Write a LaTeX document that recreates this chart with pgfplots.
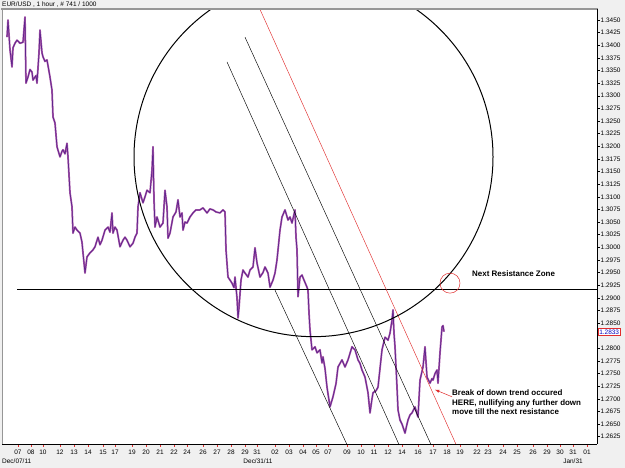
\documentclass[border=0pt]{standalone}
\usepackage{fontspec}
\setmainfont{Liberation Sans}
\usepackage{pgfplots}
\usepackage{pgfplotstable}
\pgfplotsset{compat=1.18}
\definecolor{bgc}{RGB}{240,240,240}
\definecolor{barc}{RGB}{95,35,140}
\definecolor{barlight}{RGB}{170,90,170}
\definecolor{trendred}{RGB}{225,45,45}
\definecolor{framegray}{RGB}{150,150,150}
\pgfplotstableread{
x y
7 1.3416
8 1.3450
10 1.3391
12 1.3357
13 1.3395
15 1.3404
17 1.3410
20 1.3404
23 1.3406
25 1.3456
26 1.3325
28 1.3337
30 1.3352
32 1.3347
33 1.3331
36 1.3340
37 1.3325
39 1.3385
40 1.3430
42 1.3385
43 1.3377
45 1.3368
47 1.3371
50 1.3337
52 1.3311
53 1.3258
55 1.3246
57 1.3199
60 1.3179
62 1.3190
63 1.3193
65 1.3185
67 1.3206
68 1.3179
70 1.3108
72 1.3080
73 1.3028
75 1.3040
77 1.3034
80 1.3028
82 1.3010
83 1.2989
85 1.2949
87 1.2981
90 1.2989
93 1.2995
95 1.3001
98 1.3020
100 1.3005
102 1.3014
105 1.3034
108 1.3040
110 1.3030
112 1.3068
113 1.3028
115 1.3040
117 1.3034
120 1.3001
123 1.3014
125 1.3020
127 1.3014
130 1.3001
133 1.3008
135 1.3020
137 1.3028
138 1.3080
140 1.3108
143 1.3088
145 1.3100
147 1.3113
150 1.3108
152 1.3153
153 1.3199
154 1.3094
155 1.3040
157 1.3060
160 1.3040
163 1.3048
165 1.3113
167 1.3080
168 1.3018
170 1.3028
173 1.3060
176 1.3070
178 1.3094
180 1.3060
182 1.3068
183 1.3034
185 1.3050
187 1.3048
190 1.3060
193 1.3068
196 1.3074
200 1.3074
203 1.3078
207 1.3068
210 1.3076
213 1.3074
216 1.3070
220 1.3068
223 1.3074
225 1.3070
226 1.2995
228 1.2941
230 1.2935
232 1.2929
234 1.2920
235 1.2941
237 1.2900
238 1.2860
239 1.2880
241 1.2935
243 1.2955
245 1.2949
248 1.2941
250 1.2955
253 1.2961
255 1.2999
257 1.2969
260 1.2941
263 1.2950
265 1.2961
268 1.2949
270 1.2921
273 1.2935
275 1.2949
277 1.2975
280 1.3034
282 1.3060
285 1.3074
288 1.3054
290 1.3060
292 1.3048
295 1.3074
296 1.3020
297 1.2995
298 1.2902
300 1.2941
302 1.2945
304 1.2935
307 1.2921
308 1.2915
309 1.2870
310 1.2836
312 1.2797
315 1.2803
317 1.2791
320 1.2797
322 1.2771
323 1.2783
325 1.2760
327 1.2723
330 1.2684
333 1.2704
336 1.2730
338 1.2763
340 1.2770
342 1.2777
345 1.2763
348 1.2777
350 1.2790
352 1.2803
355 1.2797
358 1.2777
360 1.2770
362 1.2757
365 1.2743
368 1.2712
370 1.2672
372 1.2700
373 1.2712
376 1.2716
378 1.2723
380 1.2760
382 1.2797
385 1.2822
388 1.2816
390 1.2830
392 1.2856
393 1.2876
394 1.2830
395 1.2803
397 1.2723
398 1.2678
400 1.2658
402 1.2650
403 1.2644
405 1.2632
407 1.2650
408 1.2658
410 1.2668
412 1.2672
415 1.2684
417 1.2670
418 1.2664
420 1.2737
423 1.2763
425 1.2803
427 1.2743
430 1.2731
432 1.2740
433 1.2737
435 1.2750
437 1.2757
438 1.2731
440 1.2791
442 1.2842
443 1.2845
444 1.2833
}\pricedata
\begin{document}
\begin{tikzpicture}
\fill[bgc] (0bp,0bp) rectangle (625bp,468bp);
\begin{axis}[
  at={(2bp,24bp)}, anchor=south west, scale only axis,
  width=595bp, height=435bp,
  xmin=2, xmax=597, ymin=1.26105, ymax=1.34718,
  axis background/.style={fill=white},
  axis line style={draw=none},
  tick align=outside,
  major tick length=2.5bp,
  ytick pos=right, yticklabel pos=right,
  xtick pos=left,
  scaled y ticks=false,
  ytick={1.2625,1.2650,1.2675,1.2700,1.2725,1.2750,1.2775,1.2800,1.2825,1.2850,1.2875,1.2900,1.2925,1.2950,1.2975,1.3000,1.3025,1.3050,1.3075,1.3100,1.3125,1.3150,1.3175,1.3200,1.3225,1.3250,1.3275,1.3300,1.3325,1.3350,1.3375,1.3400,1.3425,1.3450},
  yticklabels={1.2625,1.2650,1.2675,1.2700,1.2725,1.2750,1.2775,1.2800,{},1.2850,1.2875,1.2900,1.2925,1.2950,1.2975,1.3000,1.3025,1.3050,1.3075,1.3100,1.3125,1.3150,1.3175,1.3200,1.3225,1.3250,1.3275,1.3300,1.3325,1.3350,1.3375,1.3400,1.3425,1.3450},
  yticklabel style={font=\fontsize{6.5}{7}\selectfont, inner sep=1bp},
  ytick style={black, line width=0.5bp},
  xtick={18,31,43,60,74,88,103,115,132,146,160,174,187,203,217,231,245,257,275,289,303,316,328,347,361,374,388,402,418,433,447,460,477,488,503,517,533,547,560,573,587},
  xticklabels={07,08,10,12,13,14,15,17,19,20,21,22,24,26,27,28,29,31,02,03,04,05,07,09,10,11,12,14,16,17,18,19,22,23,24,25,26,29,30,31,01},
  xticklabel style={font=\fontsize{6.5}{7}\selectfont, inner sep=1.5bp, yshift=-1.5bp},
  xtick style={trendred, line width=0.5bp},
]
% price (hourly bars traced as a line): wide light body and dark core
\addplot[barlight, line width=1.8bp, line join=round] table {\pricedata};
\addplot[barc, line width=0.7bp, line join=round] table {\pricedata};
% horizontal resistance line
\addplot[black, line width=0.7bp] coordinates {(17,1.2917) (597,1.2917)};
% trend channel lines
\addplot[black, line width=0.45bp] coordinates {(227,1.3367) (400,1.2605)};
\addplot[black, line width=0.45bp] coordinates {(245,1.3416) (432,1.2605)};
\addplot[black, line width=0.45bp] coordinates {(275,1.2915) (348,1.2605)};
\addplot[trendred, line width=0.45bp] coordinates {(250,1.3515) (458,1.2601)};
% big circle and small red circle
\draw[black, line width=1bp] (axis cs:313.5,1.3179) ellipse [x radius=179.5, y radius=0.0356];
\draw[trendred, line width=0.5bp] (axis cs:450,1.2929) ellipse [x radius=10, y radius=0.00198];
% arrow
\draw[trendred, line width=0.5bp, -latex] (axis cs:452,1.2704) -- (axis cs:435,1.2718);
\end{axis}
% frame
\draw[framegray, line width=1.5bp] (1bp,459bp) -- (598bp,459bp);
\draw[framegray, line width=0.8bp] (2bp,24bp) -- (2bp,459bp);
\draw[black, line width=0.8bp] (597bp,24bp) -- (597bp,459bp);
\draw[black, line width=0.8bp] (2bp,24bp) -- (597bp,24bp);
% title
\node[anchor=west, inner sep=0pt, font=\fontsize{6.5}{7}\selectfont] at (2bp,463.5bp) {EUR/USD , 1 hour , \# 741 / 1000};
% second row of date labels
\node[anchor=west, inner sep=0pt, font=\fontsize{6.5}{7}\selectfont] at (2bp,6.5bp) {Dec/07/11};
\node[inner sep=0pt, font=\fontsize{6.5}{7}\selectfont] at (258bp,6.5bp) {Dec/31/11};
\node[inner sep=0pt, font=\fontsize{6.5}{7}\selectfont] at (573bp,6.5bp) {Jan/31};
% current price label
\node[anchor=west, draw=trendred, fill=white, text=blue!75!black, inner xsep=1bp, inner ysep=1bp, line width=0.5bp, font=\fontsize{6.5}{7}\selectfont] at (598bp,136bp) {1.2833};
% annotations
\node[anchor=west, inner sep=0pt, font=\fontsize{8}{9.5}\selectfont\bfseries] at (472bp,194bp) {Next Resistance Zone};
\node[anchor=north west, inner sep=0pt, align=left, font=\fontsize{8}{9.5}\selectfont\bfseries] at (452bp,78bp) {Break of down trend occured\\HERE, nullifying any further down\\move till the next resistance};
\pgfresetboundingbox
\path (0bp,0bp) rectangle (625bp,468bp);
\end{tikzpicture}
\end{document}
